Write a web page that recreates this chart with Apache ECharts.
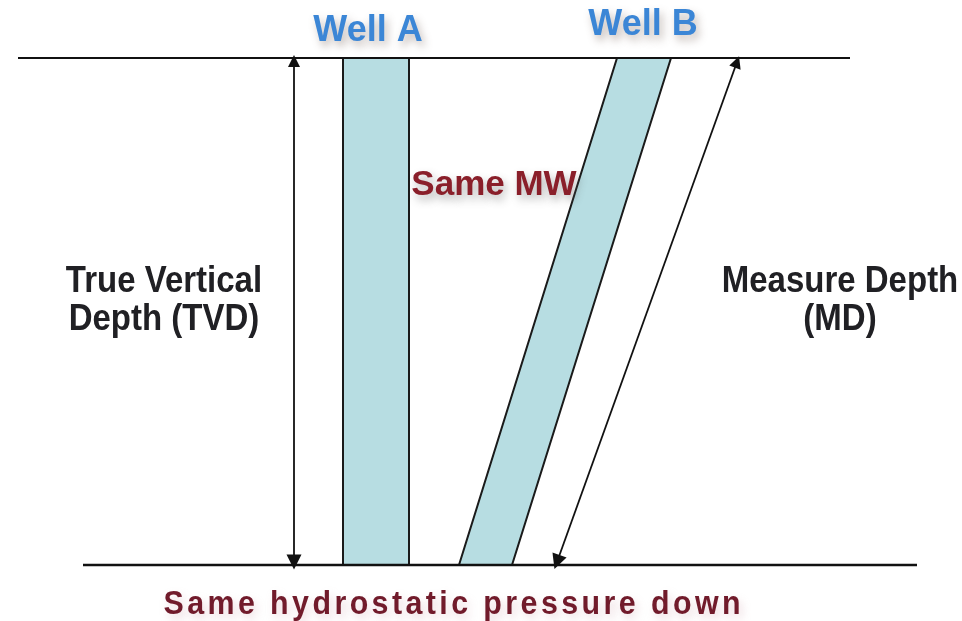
<!DOCTYPE html>
<html>
<head>
<meta charset="utf-8">
<script src="https://cdn.jsdelivr.net/npm/echarts@6/dist/echarts.min.js"></script>
<style>
html,body{margin:0;padding:0;background:#fff;}
#main{width:962px;height:621px;}
</style>
</head>
<body>
<div id="main"></div>
<script>
// Diagram space: x = horizontal position, y = depth (0 at top)
var surfaceLine = [[18, 58], [850, 58]];
var bottomLine = [[83, 565], [917, 565]];
var wellA = [[343, 58], [409, 58], [409, 565], [343, 565]];
var wellB = [[617, 58], [671, 58], [512, 565], [459, 565]];
var tvdArrow = [[294, 61], [294, 562]];
var mdArrow = [[737, 62], [557, 562]];
var labelTexts = ['Well A', 'Well B', 'Same MW', 'True Vertical\nDepth (TVD)', 'Measure Depth\n(MD)', 'Same hydrostatic pressure down'];
var labelPoints = [[368, 31], [643, 25], [494, 185], [164, 301], [840, 301], [452, 605]];

var labelStyles = [
  {color: '#3b86d6', size: 36, weight: 'bold', sx: 1, sy: 1, lh: 38, shadow: 'rgba(120,100,90,0.45)'},
  {color: '#3b86d6', size: 36, weight: 'bold', sx: 1, sy: 1, lh: 38, shadow: 'rgba(120,100,90,0.45)'},
  {color: '#8a1f2a', size: 35, weight: 'bold', sx: 1, sy: 1, lh: 37, shadow: 'rgba(90,90,90,0.45)'},
  {color: '#202024', size: 33, weight: 'bold', sx: 1, sy: 1.1, lh: 34, shadow: 'rgba(0,0,0,0)'},
  {color: '#202024', size: 33, weight: 'bold', sx: 1, sy: 1.1, lh: 34, shadow: 'rgba(0,0,0,0)'},
  {color: '#711b2b', size: 31, weight: 'bold', sx: 0.98, sy: 1.1, lh: 34, shadow: 'rgba(200,150,160,0.35)', spreadTo: 577}
];

var wells = [wellA, wellB];

var measureCtx = document.createElement('canvas').getContext('2d');
function fontOf(st) { return st.weight + ' ' + st.size + 'px "Liberation Sans", Arial, sans-serif'; }

var chart = echarts.init(document.getElementById('main'), null, {renderer: 'canvas'});
chart.setOption({
  backgroundColor: '#ffffff',
  animation: false,
  grid: {left: 0, right: 0, top: 0, bottom: 0},
  xAxis: {type: 'value', min: 0, max: 962, show: false},
  yAxis: {type: 'value', min: 0, max: 621, inverse: true, show: false},
  series: [
    {
      type: 'custom',
      coordinateSystem: 'cartesian2d',
      data: wells.map(function (w, i) { return [w[0][0], w[0][1], i]; }),
      renderItem: function (params, api) {
        var poly = wells[params.dataIndex];
        var pts = poly.map(function (p) { return api.coord(p); });
        return {
          type: 'polygon',
          shape: {points: pts},
          style: {fill: '#b7dde2', stroke: '#1a1a1a', lineWidth: 2}
        };
      },
      z: 2
    },
    {
      type: 'line',
      data: surfaceLine,
      symbol: 'none',
      lineStyle: {color: '#111', width: 2},
      z: 3
    },
    {
      type: 'line',
      data: bottomLine,
      symbol: 'none',
      lineStyle: {color: '#111', width: 2.5},
      z: 3
    },
    {
      type: 'lines',
      coordinateSystem: 'cartesian2d',
      symbol: ['triangle', 'triangle'],
      symbolSize: [12, 15],
      lineStyle: {color: '#111', width: 1.8, opacity: 1},
      data: [{coords: tvdArrow}, {coords: mdArrow}],
      z: 4
    },
    {
      type: 'custom',
      coordinateSystem: 'cartesian2d',
      data: labelPoints.map(function (p, i) { return [p[0], p[1], i]; }),
      renderItem: function (params, api) {
        var i = params.dataIndex;
        var st = labelStyles[i];
        var c = api.coord([api.value(0), api.value(1)]);
        var baseStyle = {
          fill: st.color,
          verticalAlign: 'middle',
          font: fontOf(st),
          lineHeight: st.lh,
          textShadowColor: st.shadow,
          textShadowBlur: 8,
          textShadowOffsetX: 3,
          textShadowOffsetY: 5
        };
        if (st.spreadTo) {
          var txt = labelTexts[i];
          measureCtx.font = fontOf(st);
          var ws = [], sum = 0;
          for (var k = 0; k < txt.length; k++) {
            var w = measureCtx.measureText(txt[k]).width * st.sx;
            ws.push(w); sum += w;
          }
          var gap = (st.spreadTo - sum) / (txt.length - 1);
          var x = c[0] - st.spreadTo / 2;
          var children = [];
          for (var k2 = 0; k2 < txt.length; k2++) {
            children.push({
              type: 'text',
              x: x, y: c[1],
              scaleX: st.sx, scaleY: st.sy,
              style: echarts.util.extend({text: txt[k2], x: 0, y: 0, align: 'left'}, baseStyle)
            });
            x += ws[k2] + gap;
          }
          return {type: 'group', children: children};
        }
        return {
          type: 'text',
          x: c[0], y: c[1],
          scaleX: st.sx, scaleY: st.sy,
          style: echarts.util.extend({text: labelTexts[i], x: 0, y: 0, align: 'center'}, baseStyle)
        };
      },
      z: 5
    }
  ]
});
</script>
</body>
</html>
